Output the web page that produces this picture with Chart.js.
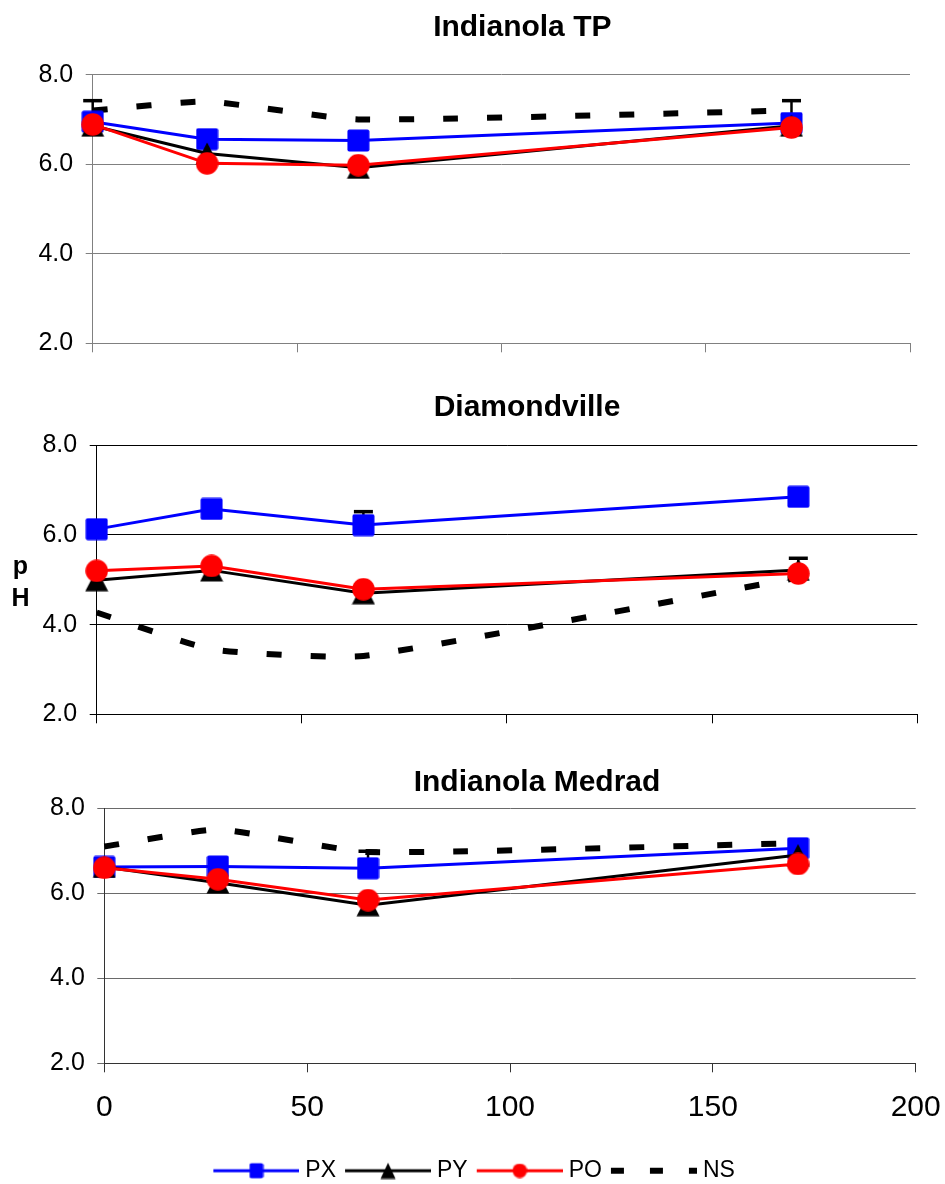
<!DOCTYPE html>
<html>
<head>
<meta charset="utf-8">
<title>pH</title>
<script src="https://cdn.jsdelivr.net/npm/chart.js@4.4.0/dist/chart.umd.min.js"></script>
<style>
  html, body { margin: 0; padding: 0; background: #fff; overflow: hidden; }
  #wrap { position: relative; width: 945px; height: 1184px; overflow: hidden; background: #fff; }
  #wrap canvas { position: absolute; left: 0; top: 0; }
</style>
</head>
<body>
<div id="wrap">
  <canvas id="c1" width="945" height="1200"></canvas>
  <canvas id="c2" width="945" height="1200"></canvas>
  <canvas id="c3" width="980" height="1200"></canvas>
</div>
<script>
// Sampling days (x) shared by every series
const days = [0, 28, 65, 171];
const seriesNames = ['PX', 'PY', 'PO', 'NS'];
const xTicks = [0, 50, 100, 150, 200];
const yTicks = [2, 4, 6, 8];
const panelTitles = ['Indianola TP', 'Diamondville', 'Indianola Medrad'];

// Indianola TP
const tpPX = [6.95, 6.56, 6.53, 6.92];
const tpPY = [6.86, 6.24, 5.92, 6.86];
const tpPO = [6.89, 6.02, 5.98, 6.82];
const tpNS = [7.20, 7.40, 7.00, 7.20];
const tpErrPY = [0.56, null, null, 0.56];

// Diamondville
const dvPX = [6.13, 6.58, 6.22, 6.85];
const dvPY = [4.99, 5.21, 4.70, 5.22];
const dvPO = [5.20, 5.31, 4.79, 5.14];
const dvNS = [4.27, 3.45, 3.30, 5.05];
const dvErrPX = [null, null, 0.30, null];
const dvErrPY = [null, null, null, 0.26];

// Indianola Medrad
const mdPX = [6.62, 6.63, 6.59, 7.06];
const mdPY = [6.62, 6.25, 5.72, 6.90];
const mdPO = [6.60, 6.33, 5.84, 6.69];
const mdNS = [7.10, 7.50, 6.97, 7.18];
const mdErrPX = [null, null, 0.40, null];

const FAMILY = "'Liberation Sans', Arial, Helvetica, sans-serif";
const BLUE = '#0000ff', RED = '#ff0000', BLACK = '#000000';

// ---------- marker images ----------
function markerCanvas(shape, w, h, color) {
  const c = document.createElement('canvas');
  c.width = w; c.height = h;
  const g = c.getContext('2d');
  g.fillStyle = color;
  g.beginPath();
  if (shape === 'square') {
    if (g.roundRect) g.roundRect(0.5, 0.5, w - 1, h - 1, 2);
    else g.rect(0.5, 0.5, w - 1, h - 1);
  } else if (shape === 'circle') {
    g.arc(w / 2, h / 2, Math.min(w, h) / 2 - 0.25, 0, Math.PI * 2);
  } else {
    g.moveTo(w / 2, 0.5);
    g.lineTo(w - 0.5, h - 0.5);
    g.lineTo(0.5, h - 0.5);
    g.closePath();
  }
  g.fill();
  return c;
}

const mkSquare = markerCanvas('square', 23, 23, BLUE);
const mkTriangle = markerCanvas('triangle', 24, 23, BLACK);
const mkCircle = markerCanvas('circle', 23, 23, RED);

// legend swatch: line segment with a marker in the middle (blank margin on the left)
function legendSwatch(color, marker, dashed) {
  const lead = 10, len = 86, W = lead + len, H = 24;
  const c = document.createElement('canvas');
  c.width = W; c.height = H;
  const g = c.getContext('2d');
  g.strokeStyle = color;
  if (dashed) { g.lineWidth = 6; g.setLineDash([13, 26]); }
  else { g.lineWidth = 3; }
  g.beginPath();
  g.moveTo(lead, H / 2);
  g.lineTo(W, H / 2);
  g.stroke();
  if (marker) g.drawImage(marker, lead + len / 2 - marker.width / 2, H / 2 - marker.height / 2);
  return c;
}
const swatches = [
  legendSwatch(BLUE, markerCanvas('square', 15, 16, BLUE), false),
  legendSwatch(BLACK, markerCanvas('triangle', 16, 17, BLACK), false),
  legendSwatch(RED, markerCanvas('circle', 15, 15, RED), false),
  legendSwatch(BLACK, null, true)
];

// ---------- plugins ----------
const panelText = {
  id: 'panelText',
  afterDraw(chart, args, opts) {
    const ctx = chart.ctx;
    ctx.save();
    ctx.fillStyle = '#000';
    ctx.textAlign = 'center';
    ctx.textBaseline = 'alphabetic';
    (opts.items || []).forEach(it => {
      ctx.font = it.font;
      ctx.fillText(it.text, it.x, it.y);
    });
    ctx.restore();
  }
};

// positive-only error bars, drawn beneath the series
const errorBars = {
  id: 'errorBars',
  beforeDatasetsDraw(chart) {
    const { ctx, scales: { x, y } } = chart;
    ctx.save();
    ctx.strokeStyle = '#000';
    chart.data.datasets.forEach(ds => {
      if (!ds.errorPlus) return;
      ds.errorPlus.forEach((e, i) => {
        if (e == null) return;
        const p = ds.data[i];
        const px = x.getPixelForValue(p.x);
        const y0 = y.getPixelForValue(p.y);
        const y1 = y.getPixelForValue(p.y + e);
        ctx.lineWidth = 2.5;
        ctx.beginPath(); ctx.moveTo(px, y0); ctx.lineTo(px, y1); ctx.stroke();
        ctx.lineWidth = 3.5;
        ctx.beginPath(); ctx.moveTo(px - 9.5, y1); ctx.lineTo(px + 9.5, y1); ctx.stroke();
      });
    });
    ctx.restore();
  }
};

// ---------- datasets ----------
function series(label, vals, color, marker, order, err) {
  const d = {
    label,
    data: days.map((t, i) => ({ x: t, y: vals[i] })),
    borderColor: color,
    backgroundColor: color,
    borderWidth: 3,
    pointStyle: marker,
    pointRadius: 12,
    pointHoverRadius: 12,
    tension: 0,
    clip: false,
    order
  };
  if (err) d.errorPlus = err;
  return d;
}
function nsSeries(vals) {
  return {
    label: 'NS',
    data: days.map((t, i) => ({ x: t, y: vals[i] })),
    borderColor: BLACK,
    backgroundColor: BLACK,
    borderWidth: 6,
    borderDash: [15, 29],
    borderCapStyle: 'butt',
    pointRadius: 0,
    pointHoverRadius: 0,
    tension: 0.15,
    clip: false,
    order: 4
  };
}

function panelOptions(cfg) {
  const yFont = { family: FAMILY, size: 25 };
  const xFont = { family: FAMILY, size: 30 };
  return {
    responsive: false,
    animation: false,
    events: [],
    layout: { padding: { top: cfg.top, bottom: cfg.padBottom, left: cfg.padLeft, right: cfg.right } },
    plugins: {
      legend: cfg.legend || { display: false },
      tooltip: { enabled: false },
      title: { display: false },
      panelText: { items: cfg.texts }
    },
    scales: {
      x: {
        type: 'linear',
        min: xTicks[0],
        max: xTicks[xTicks.length - 1],
        ticks: { stepSize: xTicks[1] - xTicks[0], display: cfg.showX, font: xFont, color: '#000', padding: 17.7, maxRotation: 0 },
        grid: { drawOnChartArea: false, drawTicks: true, tickLength: 9, color: cfg.axisColor, lineWidth: 1 },
        border: { display: true, color: cfg.axisColor, width: 1 },
        afterFit: s => { s.height = cfg.xHeight; }
      },
      y: {
        min: yTicks[0],
        max: yTicks[yTicks.length - 1],
        ticks: { stepSize: yTicks[1] - yTicks[0], font: yFont, color: '#000', padding: 12.5, callback: v => Number(v).toFixed(1) },
        grid: { color: cfg.gridColor, lineWidth: 1, tickLength: 7, drawTicks: true },
        border: { display: true, color: cfg.axisColor, width: 1 },
        afterFit: s => { s.width = cfg.yWidth; }
      }
    }
  };
}

const titleFont = 'bold 30px ' + FAMILY;
const labelFont = 'bold 25px ' + FAMILY;

// Indianola TP
new Chart(document.getElementById('c1'), {
  type: 'line',
  data: { datasets: [
    series('PX', tpPX, BLUE, mkSquare, 3),
    series('PY', tpPY, BLACK, mkTriangle, 2, tpErrPY),
    series('PO', tpPO, RED, mkCircle, 1),
    nsSeries(tpNS)
  ] },
  options: panelOptions({
    top: 74.7, padBottom: 1200 - 343.3 - 20, padLeft: 0, right: 945 - 910,
    yWidth: 92.7, xHeight: 20, showX: false,
    gridColor: '#808080', axisColor: '#808080',
    texts: [{ text: panelTitles[0], x: 522.3, y: 35.7, font: titleFont }]
  }),
  plugins: [errorBars, panelText]
});

// Diamondville
new Chart(document.getElementById('c2'), {
  type: 'line',
  data: { datasets: [
    series('PX', dvPX, BLUE, mkSquare, 3, dvErrPX),
    series('PY', dvPY, BLACK, mkTriangle, 2, dvErrPY),
    series('PO', dvPO, RED, mkCircle, 1),
    nsSeries(dvNS)
  ] },
  options: panelOptions({
    top: 445.3, padBottom: 1200 - 714.3 - 20, padLeft: 0, right: 945 - 917.3,
    yWidth: 96.7, xHeight: 20, showX: false,
    gridColor: '#000000', axisColor: '#000000',
    texts: [
      { text: panelTitles[1], x: 527, y: 416, font: titleFont },
      { text: 'p', x: 20.5, y: 573.5, font: labelFont },
      { text: 'H', x: 20.5, y: 606, font: labelFont }
    ]
  }),
  plugins: [errorBars, panelText]
});

// Indianola Medrad, with the shared x labels and the legend
new Chart(document.getElementById('c3'), {
  type: 'line',
  data: { datasets: [
    series('PX', mdPX, BLUE, mkSquare, 3, mdErrPX),
    series('PY', mdPY, BLACK, mkTriangle, 2),
    series('PO', mdPO, RED, mkCircle, 1),
    nsSeries(mdNS)
  ] },
  options: panelOptions({
    top: 808.3, padBottom: 7.8, padLeft: 28, right: 980 - 915.7,
    yWidth: 104.3 - 28, xHeight: 1154.7 - 1063.3, showX: true,
    gridColor: '#6a6a6a', axisColor: '#333333',
    legend: {
      display: true,
      position: 'bottom',
      onClick: null,
      labels: {
        usePointStyle: true,
        pointStyleWidth: 85,
        padding: 4.5,
        color: '#000',
        font: { family: FAMILY, size: 23 },
        generateLabels: () => seriesNames.map((n, i) => ({
          text: n, pointStyle: swatches[i], fillStyle: 'rgba(0,0,0,0)',
          strokeStyle: 'rgba(0,0,0,0)', lineWidth: 0, hidden: false, datasetIndex: i, fontColor: '#000'
        }))
      }
    },
    texts: [{ text: panelTitles[2], x: 537, y: 791, font: titleFont }]
  }),
  plugins: [errorBars, panelText]
});
</script>
</body>
</html>
